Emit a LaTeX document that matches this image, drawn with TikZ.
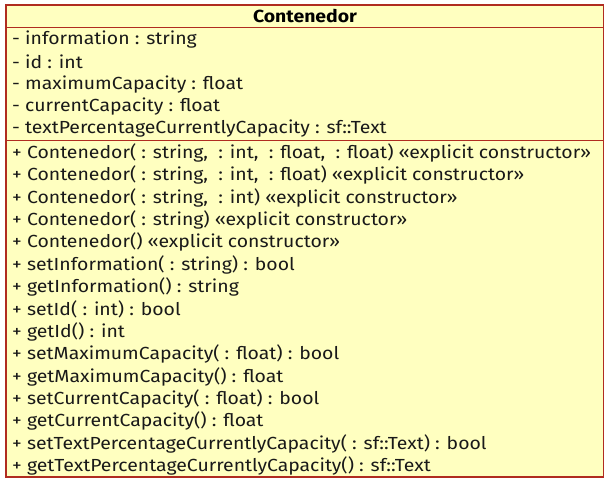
\documentclass[tikz,border=0pt]{standalone}
\usepackage{fontspec}
\setmainfont{Fira Sans}[FakeStretch=1.11]
\definecolor{umlfill}{RGB}{255,255,192}
\definecolor{umlline}{RGB}{176,44,32}
\begin{document}
\begin{tikzpicture}[x=1pt,y=-1pt,
  row/.style={anchor=west,inner sep=0pt,font=\fontsize{17.5}{19}\selectfont,text=black!90},
  ttl/.style={inner sep=0pt,font=\fontsize{17.5}{19}\selectfont\bfseries}]
\useasboundingbox (0,0) rectangle (609,486);
\draw[umlline,fill=umlfill,line width=1.2pt] (6,5) rectangle (603.5,477);
\draw[umlline,line width=1.2pt] (6,27.5) -- (603.5,27.5);
\draw[umlline,line width=1.2pt] (6,140.5) -- (603.5,140.5);
\node[ttl] (title) at (305,16.5) {Contenedor};
\foreach \t [count=\i] in {
 {- information : string},
 {- id : int},
 {- maximumCapacity : float},
 {- currentCapacity : float},
 {- textPercentageCurrentlyCapacity : sf::Text}}
 \node[row] (a\i) at (12,{40+(\i-1)*22.2}) {\t};
\foreach \t [count=\i] in {
 {+ Contenedor( : string,\ \ : int,\ \ : float,\ \ : float) «explicit constructor»},
 {+ Contenedor( : string,\ \ : int,\ \ : float) «explicit constructor»},
 {+ Contenedor( : string,\ \ : int) «explicit constructor»},
 {+ Contenedor( : string) «explicit constructor»},
 {+ Contenedor() «explicit constructor»},
 {+ setInformation( : string) : bool},
 {+ getInformation() : string},
 {+ setId( : int) : bool},
 {+ getId() : int},
 {+ setMaximumCapacity( : float) : bool},
 {+ getMaximumCapacity() : float},
 {+ setCurrentCapacity( : float) : bool},
 {+ getCurrentCapacity() : float},
 {+ setTextPercentageCurrentlyCapacity( : sf::Text) : bool},
 {+ getTextPercentageCurrentlyCapacity() : sf::Text}}
 \node[row] (m\i) at (12,{153+(\i-1)*22.36}) {\t};
\end{tikzpicture}
\end{document}
